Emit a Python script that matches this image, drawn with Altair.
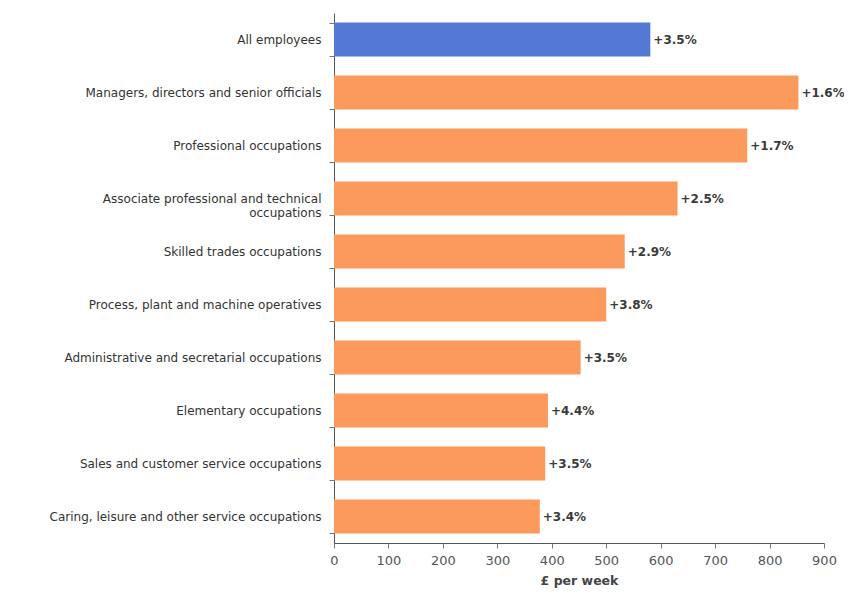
import altair as alt
import pandas as pd

categories = [
    "All employees",
    "Managers, directors and senior officials",
    "Professional occupations",
    "Associate professional and technical occupations",
    "Skilled trades occupations",
    "Process, plant and machine operatives",
    "Administrative and secretarial occupations",
    "Elementary occupations",
    "Sales and customer service occupations",
    "Caring, leisure and other service occupations",
]
pay = [581, 853, 759, 631, 534, 500, 453, 393, 388, 378]
change = ["+3.5%", "+1.6%", "+1.7%", "+2.5%", "+2.9%", "+3.8%", "+3.5%", "+4.4%", "+3.5%", "+3.4%"]
group = ["all"] + ["occ"] * 9

df = pd.DataFrame({"cat": categories, "pay": pay, "change": change, "group": group})

label_expr = ("datum.label == 'Associate professional and technical occupations' ? "
              "['Associate professional and technical', 'occupations'] : datum.label")

y_enc = alt.Y("cat:N", sort=categories, title=None,
              scale=alt.Scale(paddingInner=0.36, paddingOuter=0.18),
              axis=alt.Axis(labelFont="DejaVu Sans", labelFontSize=12,
                            labelColor="#333333", labelPadding=8, labelLimit=330,
                            labelExpr=label_expr, labelLineHeight=14,
                            domainColor="#555555", tickColor="#777777", tickSize=5,
                            tickBand="extent"))

x_enc = alt.X("pay:Q", title="£ per week",
              scale=alt.Scale(domain=[0, 900], nice=False),
              axis=alt.Axis(values=list(range(0, 901, 100)), grid=False,
                            labelFlush=False,
                            labelFont="DejaVu Sans", labelFontSize=13,
                            labelColor="#555555", labelPadding=6,
                            titleFont="DejaVu Sans", titleFontSize=12.5,
                            titleFontWeight="bold", titleColor="#444444",
                            titlePadding=7, domainColor="#555555",
                            tickColor="#777777", tickSize=5))

bars = alt.Chart(df).mark_bar().encode(
    y=y_enc,
    x=x_enc,
    color=alt.Color("group:N", legend=None,
                    scale=alt.Scale(domain=["all", "occ"], range=["#5479D4", "#FB9A5C"])),
)

texts = alt.Chart(df).mark_text(align="left", baseline="middle", dx=3,
                                font="DejaVu Sans", fontSize=12,
                                fontWeight="bold", color="#3a3a3a").encode(
    y=alt.Y("cat:N", sort=categories),
    x="pay:Q",
    text="change:N",
)

chart = (bars + texts).properties(
    width=490, height=530,
    autosize=alt.AutoSizeParams(type="none"),
    padding={"left": 326, "top": 5, "right": 20, "bottom": 45},
).configure_view(stroke=None)

chart.save("out.html", embed_options={"renderer": "svg", "actions": False})
